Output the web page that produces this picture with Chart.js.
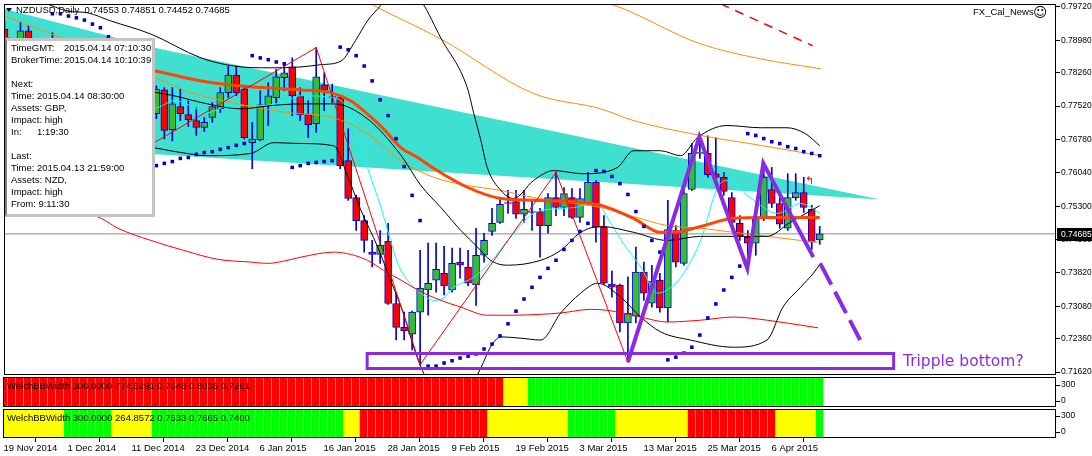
<!doctype html>
<html lang="en">
<head>
<meta charset="utf-8">
<title>NZDUSD, Daily</title>
<script src="https://cdn.jsdelivr.net/npm/chart.js@4.4.1/dist/chart.umd.min.js"></script>
<style>
  body { margin: 0; background: #fff; }
  #wrap { position: relative; width: 1092px; height: 456px; overflow: hidden; background: #fff;
          font-family: "Liberation Sans", Arial, sans-serif; }
  #wrap canvas { position: absolute; left: 0; top: 0; }
  .t { position: absolute; white-space: pre; font-size: 9.5px; line-height: 12px; color: #000; z-index: 5; }
  #info { position: absolute; left: 5px; top: 38px; width: 145px; height: 173px; background: #fff;
          border: 3px solid #c4c4c4; border-left: 2px solid #808080; z-index: 4; }
  #tri { position: absolute; left: 6px; top: 8px; width: 0; height: 0; z-index: 5;
         border-left: 3px solid transparent; border-right: 3px solid transparent; border-top: 4px solid #000; }
</style>
</head>
<body>
<div id="wrap">
  <canvas id="main" width="1092" height="456"></canvas>
  <canvas id="pane1" width="1092" height="456"></canvas>
  <canvas id="pane2" width="1092" height="456"></canvas>

  <div id="tri"></div>
  <div class="t" style="left:16px;top:4px">NZDUSD,Daily  0.74553 0.74851 0.74452 0.74685</div>
  <div class="t" style="left:973px;top:6px">FX_Cal_News</div>
  <div class="t" style="left:1033px;top:4px;font-family:'DejaVu Sans';font-size:14px;line-height:16px">&#9786;</div>

  <div id="info"></div>
  <div class="t" style="left:11px;top:42px">TimeGMT:</div>
  <div class="t" style="left:64px;top:42px">2015.04.14 07:10:30</div>
  <div class="t" style="left:11px;top:54px">BrokerTime:</div>
  <div class="t" style="left:64px;top:54px">2015.04.14 10:10:39</div>
  <div class="t" style="left:11px;top:78px">Next:</div>
  <div class="t" style="left:11px;top:90px">Time: 2015.04.14 08:30:00</div>
  <div class="t" style="left:11px;top:102px">Assets: GBP,</div>
  <div class="t" style="left:11px;top:114px">Impact: high</div>
  <div class="t" style="left:11px;top:126px">In:</div>
  <div class="t" style="left:37px;top:126px">1:19:30</div>
  <div class="t" style="left:11px;top:150px">Last:</div>
  <div class="t" style="left:11px;top:162px">Time: 2015.04.13 21:59:00</div>
  <div class="t" style="left:11px;top:174px">Assets: NZD,</div>
  <div class="t" style="left:11px;top:186px">Impact: high</div>
  <div class="t" style="left:11px;top:198px">From: 9:11:30</div>

  <div class="t" style="left:805px;top:175px;color:#ff0000;font-family:'DejaVu Sans';font-size:11px">&#8624;</div>
  <div class="t" style="left:903px;top:351px;color:#8a2be2;font-family:'DejaVu Sans';font-size:15.5px;line-height:20px">Tripple bottom?</div>

  <div class="t" style="left:7px;top:380px">WelchBBWidth 300.0000 774.5291 0.7648 0.8035 0.7261</div>
  <div class="t" style="left:7px;top:412px">WelchBBWidth 300.0000 264.8572 0.7533 0.7665 0.7400</div>
</div>

<script>
  // daily bars, 19 Nov 2014 .. 14 Apr 2015 (bar index 0..102)
  const opens = [
    .7923, .7848, .7864, .7919, .7857, .7830, .7886, .7871, .7808, .7775,
    .7808, .7841, .7775, .7742, .7764, .7797, .7746, .7775, .7764, .7735,
    .7788, .7700, .7751, .7733, .7720, .7705, .7727, .7746, .7782, .7821,
    .7790, .7671, .7677, .7753, .7771, .7815, .7839, .7775, .7733, .7713,
    .7799, .7773, .7771, .7631, .7549, .7498, .7428, .7423, .7452, .7314,
    .7261, .7246, .7295, .7344, .7366, .7381, .7344, .7406, .7395, .7355,
    .7421, .7474, .7494, .7538, .7540, .7512, .7518, .7518, .7487, .7549,
    .7527, .7549, .7505, .7536, .7583, .7483, .7357, .7355, .7271, .7286,
    .7384, .7315, .7366, .7304, .7476, .7403, .7567, .7647, .7647, .7602,
    .7594, .7549, .7492, .7461, .7448, .7503, .7567, .7536, .7481, .7549,
    .7560, .7523, .74553
  ];
  const highs = [
    .7941, .7875, .7939, .7930, .7886, .7897, .7915, .7886, .7830, .7819,
    .7852, .7864, .7797, .7775, .7808, .7819, .7786, .7808, .7804, .7797,
    .7793, .7793, .7790, .7764, .7749, .7727, .7760, .7793, .7841, .7841,
    .7797, .7716, .7786, .7804, .7834, .7848, .7859, .7793, .7764, .7882,
    .7826, .7801, .7775, .7702, .7554, .7509, .7454, .7476, .7492, .7337,
    .7295, .7297, .7432, .7448, .7448, .7441, .7437, .7437, .7432, .7481,
    .7470, .7525, .7549, .7565, .7565, .7565, .7543, .7525, .7558, .7605,
    .7571, .7569, .7569, .7605, .7587, .7509, .7386, .7357, .7373, .7439,
    .7406, .7399, .7381, .7543, .7487, .7580, .7669, .7684, .7686, .7682,
    .7605, .7560, .7509, .7476, .7514, .7627, .7616, .7549, .7602, .7602,
    .7594, .7532, .74851
  ];
  const lows = [
    .7830, .7819, .7852, .7841, .7808, .7819, .7852, .7797, .7764, .7764,
    .7786, .7764, .7720, .7709, .7742, .7731, .7724, .7653, .7724, .7724,
    .7679, .7675, .7720, .7707, .7687, .7696, .7716, .7738, .7771, .7775,
    .7679, .7613, .7675, .7709, .7757, .7786, .7731, .7720, .7682, .7694,
    .7742, .7760, .7613, .7543, .7476, .7428, .7395, .7403, .7312, .7233,
    .7233, .7211, .7178, .7288, .7339, .7333, .7339, .7370, .7353, .7310,
    .7406, .7465, .7492, .7514, .7503, .7494, .7476, .7417, .7470, .7509,
    .7509, .7503, .7494, .7532, .7450, .7357, .7328, .7251, .7184, .7271,
    .7321, .7306, .7295, .7273, .7395, .7399, .7565, .7636, .7594, .7580,
    .7554, .7485, .7454, .7410, .7421, .7498, .7527, .7481, .7476, .7543,
    .7516, .7434, .74452
  ];
  const closes = [
    .7848, .7864, .7919, .7857, .7830, .7886, .7871, .7808, .7775, .7808,
    .7841, .7775, .7742, .7764, .7797, .7746, .7775, .7764, .7735, .7790,
    .7698, .7757, .7735, .7722, .7705, .7716, .7751, .7782, .7821, .7782,
    .7682, .7679, .7755, .7775, .7817, .7826, .7775, .7733, .7711, .7817,
    .7788, .7771, .7620, .7547, .7498, .7454, .7423, .7443, .7314, .7261,
    .7253, .7295, .7348, .7359, .7390, .7353, .7403, .7399, .7359, .7421,
    .7454, .7492, .7534, .7536, .7512, .7523, .7516, .7487, .7549, .7527,
    .7558, .7505, .7547, .7583, .7483, .7359, .7350, .7271, .7293, .7384,
    .7337, .7364, .7304, .7478, .7406, .7558, .7647, .7649, .7600, .7594,
    .7563, .7494, .7463, .7448, .7505, .7594, .7536, .7490, .7549, .7560,
    .7527, .7450, .74685
  ];

  // parabolic SAR, one value per bar
  const sar = [
    null, null, null, null, null, null,
    .7957, .7957, .7952, .7948, .7943, .7934, .7926, .7906,
    .7879, .7848,
    .7605, .7609, .7616,
    .7620, .7625, .7629, .7636, .7638, .7645, .7649, .7651, .7656, .7660, .7665, .7669,
    .7864, .7859, .7855, .7850, .7846,
    .7616, .7620, .7625, .7627, .7629, .7631,
    .7883, .7877, .7864, .7841, .7808, .7766, .7731, .7680, .7618, .7554, .7498,
    .7175, .7175, .7182, .7187, .7193, .7197, .7202, .7213, .7224, .7242, .7269, .7297, .7324, .7350, .7372, .7392, .7410,
    .7434, .7454, .7474, .7492,
    .7609, .7607, .7596, .7580, .7556, .7518, .7485, .7454, .7428,
    .7189, .7195, .7204, .7217, .7244, .7282, .7313, .7344, .7372, .7397,
    .7691, .7687, .7680, .7673, .7669, .7662, .7658, .7651, .7647, .7642
  ];

  // indicator lines as [bar index, price]
  const bbUpper = [[0, .8000], [4.9, .7981], [7.9, .7963], [10.4, .7959], [13.3, .7941], [18.3, .7912], [24.6, .7859],
    [28.7, .7841], [33.3, .7837], [37.1, .7839], [39.6, .7844], [42.1, .7852], [43.9, .7897], [45.4, .7941], [47.1, .7976],
    [48.9, .8018], [50.6, .8018], [52.3, .7981], [54.6, .7903], [57.9, .7793], [58.7, .7737], [59.6, .7676], [60.4, .7616],
    [62.1, .7565], [63.7, .7547], [66.2, .7587], [68.7, .7609], [72.4, .7602], [76.7, .7616], [78.7, .7653], [82.1, .7653],
    [84.6, .7642], [86.7, .7682], [90.4, .7709], [94.6, .7704], [97.9, .7704], [100.2, .7691], [102, .7664]];
  const bbMiddle = [[0, .7857], [8.3, .7819], [17.1, .7788], [21.2, .7775], [25.4, .7757], [29.6, .7746], [33.3, .7753],
    [37.1, .7757], [41.2, .7757], [45.4, .7724], [49.6, .7643], [52.1, .7576], [54.6, .7527], [57.1, .7476], [59.2, .7439],
    [60.8, .7410], [62.9, .7399], [67.1, .7410], [69.6, .7432], [72.1, .7472], [74.6, .7485], [78.7, .7472], [82.9, .7454],
    [87.1, .7463], [92.1, .7463], [95.4, .7463], [98.3, .7494], [102, .7531]];
  const bbLower = [[0, .7675], [8.3, .7662], [17.1, .7662], [22.1, .7649], [25.4, .7642], [30.8, .7647], [33.7, .7671],
    [37.1, .7669], [41.2, .7664], [42.9, .7598], [44.6, .7521], [46.7, .7439], [48.3, .7366], [49.9, .7293], [51.2, .7217],
    [52.1, .7173], [53.6, .7122], [55.8, .7089], [58.1, .7122], [59.6, .7171], [60.8, .7217], [62.1, .7240], [64.6, .7237],
    [67.1, .7233], [69.6, .7293], [72.1, .7337], [74.2, .7359], [77.1, .7328], [79.6, .7284], [82.1, .7251], [85.8, .7233],
    [91.2, .7217], [95.4, .7233], [97.4, .7306], [99.6, .7350], [101.2, .7381], [102.1, .7403]];
  const maFast = [[0, .7903], [4.6, .7886], [12.1, .7852], [18.9, .7830], [24.6, .7808], [30.8, .7795], [37.1, .7788],
    [40.8, .7782], [43.3, .7764], [45.4, .7735], [47.4, .7702], [49.6, .7660], [51.7, .7638], [53.7, .7614], [57.9, .7572],
    [62.1, .7547], [66.2, .7543], [72.4, .7538], [74.6, .7532], [78.7, .7503], [82.1, .7472], [83.7, .7472], [87.1, .7485],
    [91.2, .7503], [95.4, .7505], [102, .7505]];
  const maSlow = [[0, .7952], [9.6, .7886], [18.9, .7815], [23.3, .7782], [27.4, .7764], [31.7, .7748], [35.8, .7737],
    [41.2, .7726], [45.4, .7691], [49.6, .7631], [53.7, .7594], [57.9, .7576], [62.1, .7565], [66.2, .7549], [70.4, .7538],
    [74.6, .7527], [78.7, .7507], [82.9, .7487], [87.1, .7481], [91.2, .7472], [95.4, .7463], [99.6, .7454], [101.8, .7450]];
  const orangeHigh1 = [[40.8, .8030], [45.8, .7979], [54.6, .7901], [66.2, .7780], [74.6, .7746], [78.7, .7720],
    [87.1, .7687], [94.6, .7665], [102.1, .7642]];
  const orangeHigh2 = [[72.1, .7990], [75.4, .7981], [87.1, .7890], [94.6, .7857], [102.1, .7835]];
  const redUpper = [[89.6, .7979], [101.1, .7886]];
  const redLower = [[0, .7580], [5.8, .7543], [12.1, .7503], [14.2, .7481], [18.3, .7454], [22.4, .7432], [26.7, .7412],
    [30.8, .7406], [32.9, .7403], [34.9, .7408], [37.1, .7417], [41.2, .7428], [43.3, .7423], [45.4, .7410], [47.4, .7388],
    [49.6, .7366], [51.7, .7344], [54.6, .7321], [57.1, .7306], [60.4, .7288], [63.3, .7288], [67.1, .7290], [69.6, .7293],
    [73.3, .7301], [75.4, .7299], [79.6, .7284], [82.9, .7273], [87.1, .7277], [91.2, .7284], [95.4, .7277], [99.6, .7266],
    [101.8, .7260]];
  const cyanLine = [[0, .7764], [9.6, .7753], [18.9, .7748], [21.2, .7764], [23.3, .7753], [25.4, .7737], [27.1, .7748],
    [29.6, .7753], [32.1, .7753], [34.6, .7760], [37.1, .7775], [41.2, .7771], [43.3, .7735], [45.4, .7616], [47.1, .7527],
    [48.3, .7454], [49.2, .7403], [50.4, .7366], [52.1, .7337], [53.7, .7321], [54.9, .7326], [56.2, .7350], [58.7, .7372],
    [60.8, .7406], [63.3, .7461], [66.2, .7514], [69.6, .7525], [71.2, .7527], [74.2, .7536], [75.4, .7505], [77.4, .7448],
    [79.6, .7395], [81.7, .7337], [82.9, .7344], [84.6, .7372], [87.1, .7454], [89.2, .7571], [90.4, .7587], [93.3, .7549],
    [96.7, .7514], [99.6, .7536], [102.1, .7514]];
  const zigzag = [[17, .7653], [39, .7882], [52, .7178], [69, .7605], [78, .7184]];
  const channelTop = [[-0.0625, .7968], [18.9, .7881], [109.5, .7545]];
  const channelBottom = [[-0.0625, .7665], [18.9, .7645], [109.5, .7545]];
  const patternLine = [[78, .7184], [86.94, .7684], [92.94, .7392], [94.94, .7625], [101.2, .7417]];
  const patternDash = [[102.06, .7403], [107.06, .7233]];
  const boxBars = [45.375, 111.25];
  const boxPrices = [.71698, .72030];
  const lastPrice = 0.74685;

  // WelchBBWidth colour states per bar (R red, Y yellow, G green)
  const welch1 = ('RRRRRRRRRR' + 'RRRRRRRRRR' + 'RRRRRRRRRR' + 'RRRRRRRRRR' + 'RRRRRRRRRR' +
                  'RRRRRRRRRR' + 'RRRYYYGGGG' + 'GGGGGGGGGG' + 'GGGGGGGGGG' + 'GGGGGGGGGG' + 'GGG').split('');
  const welch2 = ('YYYYYYYYGG' + 'GGGGYYYYYG' + 'GGGGGGGGGG' + 'GGGGGGGGGG' + 'GGGYYRRRRR' +
                  'RRRRRRRRRR' + 'RYYYYYYYYY' + 'YGGGGGGYYY' + 'YYYYYYRRRR' + 'RRRRRRRYYY' + 'YYG').split('');

  const priceTicks = [0.7972, 0.7898, 0.7826, 0.7752, 0.7678, 0.7604, 0.7530, 0.7456, 0.7382, 0.7308, 0.7236, 0.7162];
  const dateTicks = [0, 8, 16, 24, 32, 40, 48, 56, 64, 72, 80, 88, 96];
  const dateLabels = ['19 Nov 2014', '1 Dec 2014', '11 Dec 2014', '23 Dec 2014', '6 Jan 2015', '16 Jan 2015',
    '28 Jan 2015', '9 Feb 2015', '19 Feb 2015', '3 Mar 2015', '13 Mar 2015', '25 Mar 2015', '6 Apr 2015'];
  const paneTicks = [0, 300];

  // scale windows
  const X_MIN = -0.0625, X_MAX = 131.5625;
  const Y_MIN = 0.715536, Y_MAX = 0.797864;

  const font = { family: 'Liberation Sans', size: 8.5 };
  const bars = closes.map((_, i) => i);
  const pts = arr => arr.map(([x, y]) => ({ x, y }));

  const framePlugin = {
    id: 'frame',
    afterDraw(chart) {
      const { ctx, chartArea: a } = chart;
      ctx.save();
      ctx.strokeStyle = '#000';
      ctx.lineWidth = 1;
      ctx.strokeRect(a.left + 0.5, a.top + 0.5, a.right - a.left - 1, a.bottom - a.top - 1);
      ctx.restore();
    }
  };

  const priceTag = {
    id: 'priceTag',
    afterDraw(chart) {
      const { ctx, chartArea: a } = chart;
      const y = Math.round(chart.scales.y.getPixelForValue(lastPrice));
      ctx.save();
      ctx.fillStyle = '#000';
      ctx.fillRect(a.right + 1, y - 6, 36, 13);
      ctx.fillStyle = '#fff';
      ctx.font = '8.5px "Liberation Sans"';
      ctx.textBaseline = 'middle';
      ctx.fillText(lastPrice.toFixed(5), a.right + 5, y + 0.5);
      ctx.restore();
    }
  };

  function fitY(s) { s.width = 36; s.paddingTop = 0; s.paddingBottom = 0; }

  function yAxis(min, max, ticks, fmt) {
    return {
      position: 'right', min, max,
      afterFit: fitY,
      afterBuildTicks: s => { s.ticks = ticks.map(v => ({ value: v })); },
      ticks: { callback: fmt, autoSkip: false, padding: 1, color: '#000', font },
      grid: { drawOnChartArea: false, tickLength: 4, color: '#000' },
      border: { display: false }
    };
  }

  // smooth indicator curve
  const line = (data, color, width, extra) => Object.assign({
    type: 'line', data: pts(data), borderColor: color, borderWidth: width, pointRadius: 0,
    fill: false, tension: 0.4, cubicInterpolationMode: 'monotone', order: 50
  }, extra || {});
  // straight segments (drawn objects)
  const straight = (data, color, width, extra) => line(data, color, width,
    Object.assign({ tension: 0, cubicInterpolationMode: 'default' }, extra || {}));

  // main price chart
  new Chart(document.getElementById('main'), {
    type: 'bar',
    data: {
      datasets: [
        { type: 'line', data: pts(channelTop), borderWidth: 0, pointRadius: 0, tension: 0,
          fill: '+1', backgroundColor: '#40e0d0', order: 100 },
        { type: 'line', data: pts(channelBottom), borderWidth: 0, pointRadius: 0, tension: 0,
          fill: false, order: 99 },
        straight([[X_MIN, lastPrice], [X_MAX, lastPrice]], '#8c8c8c', 1, { order: 95 }),
        { type: 'bar', data: bars.map(i => ({ x: i, y: [lows[i], highs[i]] })), backgroundColor: '#0000d8',
          barThickness: 1, grouped: false, minBarLength: 1, order: 90 },
        { type: 'bar', data: bars.map(i => ({ x: i, y: [opens[i], closes[i]] })),
          backgroundColor: bars.map(i => closes[i] >= opens[i] ? '#32c032' : '#ff0000'),
          borderColor: '#0000d8', borderWidth: 1, borderSkipped: false,
          barThickness: 7, grouped: false, minBarLength: 1, order: 80 },
        line(bbUpper, '#000000', 1),
        line(bbMiddle, '#000000', 1),
        line(bbLower, '#000000', 1),
        line(redLower, '#ff0000', 1),
        straight(redUpper, '#ff0000', 1.5, { borderDash: [9, 7] }),
        line(orangeHigh1, '#ff8c00', 1),
        line(orangeHigh2, '#ff8c00', 1),
        line(maSlow, '#ff8c00', 1),
        line(cyanLine, '#00ffff', 1),
        line(maFast, '#ff4500', 3, { order: 45 }),
        straight(zigzag, '#ff0000', 1, { order: 44 }),
        { type: 'scatter', data: bars.map(i => ({ x: i, y: sar[i] })).filter(p => p.y !== null),
          pointStyle: 'rect', pointRadius: 2.5, backgroundColor: '#0000c8', borderWidth: 0, order: 40 },
        straight(patternLine, '#8a2be2', 4, { order: 10, borderJoinStyle: 'miter' }),
        straight(patternDash, '#8a2be2', 4, { order: 10, borderDash: [24, 8] }),
        straight([[boxBars[0], boxPrices[1]], [boxBars[1], boxPrices[1]], [boxBars[1], boxPrices[0]],
                  [boxBars[0], boxPrices[0]], [boxBars[0], boxPrices[1]]], '#8a2be2', 3,
                 { order: 11, borderJoinStyle: 'miter', borderCapStyle: 'square' })
      ]
    },
    options: {
      responsive: false, animation: false, devicePixelRatio: 1, events: [],
      layout: { padding: { left: 3, top: 3, right: 0, bottom: 81 } },
      plugins: { legend: { display: false }, tooltip: { enabled: false } },
      scales: {
        x: { type: 'linear', min: X_MIN, max: X_MAX, offset: false, display: false },
        y: yAxis(Y_MIN, Y_MAX, priceTicks, v => v.toFixed(5))
      }
    },
    plugins: [framePlugin, priceTag]
  });

  // WelchBBWidth panes
  const stateColor = { R: '#ff0000', Y: '#ffff00', G: '#00ff00' };

  function pane(id, states, top, bottom, min, max, showDates) {
    const x = { type: 'linear', min: X_MIN, max: X_MAX, offset: false, display: showDates };
    if (showDates) {
      Object.assign(x, {
        afterBuildTicks: s => { s.ticks = dateTicks.map(v => ({ value: v })); },
        afterFit: s => { s.height = 18; s.paddingLeft = 0; s.paddingRight = 0; },
        ticks: { callback: (v, i) => dateLabels[i], align: 'start', autoSkip: false, maxRotation: 0,
                 minRotation: 0, padding: 1, color: '#000', font: { family: 'Liberation Sans', size: 9.5 } },
        grid: { drawOnChartArea: false, tickLength: 4, color: '#000' },
        border: { display: false }
      });
    }
    new Chart(document.getElementById(id), {
      type: 'bar',
      data: {
        datasets: [{
          data: bars.map(i => ({ x: i, y: [-1000, 1000] })),
          backgroundColor: bars.map(i => stateColor[states[i]]),
          barThickness: 7, borderWidth: 0
        }]
      },
      options: {
        responsive: false, animation: false, devicePixelRatio: 1, events: [],
        layout: { padding: { left: 3, top, right: 0, bottom } },
        plugins: { legend: { display: false }, tooltip: { enabled: false } },
        scales: { x, y: yAxis(min, max, paneTicks, v => String(v)) }
      },
      plugins: [framePlugin]
    });
  }

  pane('pane1', welch1, 377, 49, -112.5, 450, false);
  pane('pane2', welch2, 409, 0, -112.5, 431.25, true);
</script>
</body>
</html>
